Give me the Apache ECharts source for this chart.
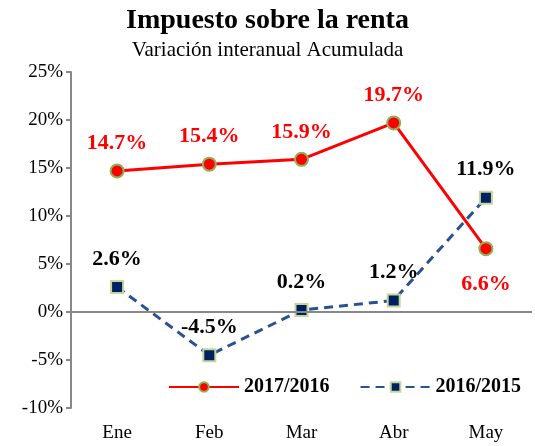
<!DOCTYPE html>
<html>
<head>
<meta charset="utf-8">
<script src="https://cdn.jsdelivr.net/npm/echarts@6/dist/echarts.min.js"></script>
<style>
  html, body { margin: 0; padding: 0; background: #fff; }
  #main { width: 535px; height: 446px; }
</style>
</head>
<body>
<div id="main"></div>
<script>
const months = ['Ene', 'Feb', 'Mar', 'Abr', 'May'];
const y2017 = [14.7, 15.4, 15.9, 19.7, 6.6];
const y2016 = [2.6, -4.5, 0.2, 1.2, 11.9];
const legendNames = ['2017/2016', '2016/2015'];

const font = 'Liberation Serif';
const chart = echarts.init(document.getElementById('main'));

// May label of 2017/2016 goes under its point
const redData = y2017.map((v, i) => i === 4
  ? { value: v, label: { position: 'bottom', distance: 17 } }
  : v);

chart.setOption({
  animation: false,
  textStyle: { fontFamily: font },
  title: {
    text: 'Impuesto sobre la renta',
    subtext: 'Variación interanual Acumulada',
    left: 'center',
    top: 2,
    itemGap: 5,
    textStyle: { fontFamily: font, fontSize: 28, fontWeight: 'bold', color: '#000' },
    subtextStyle: { fontFamily: font, fontSize: 21, color: '#000' }
  },
  legend: {
    data: legendNames,
    left: 163,
    top: 372,
    itemWidth: 70,
    itemHeight: 12,
    itemGap: 30,
    textStyle: { fontFamily: font, fontSize: 20, fontWeight: 'bold', color: '#000' }
  },
  grid: { left: 71, right: 3, top: 72, bottom: 38 },
  xAxis: {
    type: 'category',
    data: months,
    axisLine: { show: false },
    axisTick: { show: false },
    axisLabel: { fontFamily: font, fontSize: 19, color: '#000', margin: 16 }
  },
  yAxis: {
    type: 'value',
    min: -10,
    max: 25,
    interval: 5,
    axisLine: { show: true, lineStyle: { color: '#888', width: 2 } },
    axisTick: { show: true, inside: false, length: 5, lineStyle: { color: '#888', width: 2 } },
    splitLine: { show: false },
    axisLabel: {
      fontFamily: font, fontSize: 19, color: '#000', margin: 8,
      formatter: v => v + '%'
    }
  },
  series: [
    {
      name: legendNames[0],
      type: 'line',
      data: redData,
      symbol: 'circle',
      symbolSize: 13,
      lineStyle: { color: '#ff0000', width: 3 },
      itemStyle: { color: '#ff0000', borderColor: '#8fb158', borderWidth: 2 },
      label: {
        show: true,
        position: 'top',
        distance: 9,
        formatter: p => p.value.toFixed(1) + '%',
        fontFamily: font, fontSize: 22, fontWeight: 'bold', color: '#ff0000'
      },
      markLine: {
        silent: true,
        symbol: 'none',
        label: { show: false },
        lineStyle: { color: '#888', width: 2, type: 'solid' },
        data: [{ yAxis: 0 }]
      },
      z: 3
    },
    {
      name: legendNames[1],
      type: 'line',
      data: y2016,
      symbol: 'rect',
      symbolSize: 12,
      lineStyle: { color: '#2a5192', width: 3, type: [9, 6] },
      itemStyle: { color: '#002060', borderColor: '#c3d69b', borderWidth: 2 },
      label: {
        show: true,
        position: 'top',
        distance: 10,
        formatter: p => p.value.toFixed(1) + '%',
        fontFamily: font, fontSize: 22, fontWeight: 'bold', color: '#000'
      },
      z: 4
    }
  ]
});
</script>
</body>
</html>
